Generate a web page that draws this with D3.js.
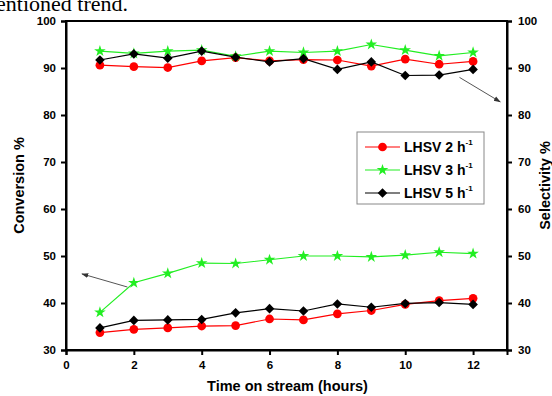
<!DOCTYPE html>
<html>
<head>
<meta charset="utf-8">
<script src="https://cdn.jsdelivr.net/npm/d3@7"></script>
<style>
  body { margin: 0; background: #fff; }
  svg { display: block; font-family: Arial, "Liberation Sans", sans-serif; }
</style>
</head>
<body>
<svg id="chart" width="552" height="396"></svg>
<script>
// Data
const hours = [1, 2, 3, 4, 5, 6, 7, 8, 9, 10, 11, 12];
const series = ["LHSV 2 h", "LHSV 3 h", "LHSV 5 h"];
const conv2 = [33.7, 34.4, 34.7, 35.1, 35.2, 36.6, 36.4, 37.7, 38.4, 39.7, 40.5, 41.0];
const conv3 = [38.0, 44.3, 46.3, 48.5, 48.4, 49.2, 50.0, 50.0, 49.8, 50.2, 50.8, 50.5];
const conv5 = [34.7, 36.3, 36.4, 36.5, 37.9, 38.8, 38.3, 39.8, 39.1, 39.9, 40.1, 39.7];
const sel2 = [90.6, 90.3, 90.1, 91.5, 92.2, 91.5, 91.8, 91.7, 90.4, 91.9, 90.8, 91.4];
const sel3 = [93.6, 93.1, 93.6, 93.8, 92.5, 93.6, 93.3, 93.6, 95.0, 93.8, 92.6, 93.3];
const sel5 = [91.7, 93.0, 92.1, 93.6, 92.3, 91.3, 92.0, 89.7, 91.3, 88.4, 88.5, 89.7];
const xTicks = [0, 2, 4, 6, 8, 10, 12];
const yTicks = [30, 40, 50, 60, 70, 80, 90, 100];

const colors = ["#ff0000", "#22ee22", "#000000"];
const symbols = [d3.symbolCircle, d3.symbolStar, d3.symbolSquare];
const symSize = [60, 42, 46];
const symRot = [0, 0, 45];

const svg = d3.select("#chart");
const plot = { left: 66, right: 507, top: 21, bottom: 350 };

const x = d3.scaleLinear().domain([0, 13]).range([plot.left, plot.right]);
const yL = d3.scaleLinear().domain([30, 100]).range([plot.bottom, plot.top]);
const yR = d3.scaleLinear().domain([30, 100]).range([plot.bottom, plot.top]);

// clipped caption text above the figure (cut off in the source too)
svg.append("text")
    .attr("x", 128).attr("y", 11)
    .attr("text-anchor", "end")
    .style("font-family", "'Liberation Serif', 'Times New Roman', serif")
    .style("font-size", "22px")
    .text("mentioned trend.");

// frame
svg.append("rect")
    .attr("x", plot.left).attr("y", plot.top)
    .attr("width", plot.right - plot.left).attr("height", plot.bottom - plot.top)
    .attr("fill", "none").attr("stroke", "#000").attr("stroke-width", 2);

// axes
const axL = svg.append("g").attr("transform", `translate(${plot.left},0)`)
    .call(d3.axisLeft(yL).tickValues(yTicks).tickSize(5).tickPadding(5));
const axR = svg.append("g").attr("transform", `translate(${plot.right},0)`)
    .call(d3.axisRight(yR).tickValues(yTicks).tickSize(5).tickPadding(6));
const axB = svg.append("g").attr("transform", `translate(0,${plot.bottom})`)
    .call(d3.axisBottom(x).tickValues(xTicks).tickSize(5).tickPadding(6));

[axL, axR, axB].forEach(g => {
    g.select(".domain").attr("stroke-width", 2);
    g.selectAll(".tick line").attr("stroke-width", 2);
    g.selectAll(".tick text")
        .style("font-size", "11.5px")
        .style("font-weight", "bold")
        .style("font-family", "Arial, 'Liberation Sans', sans-serif");
});

// axis titles
svg.append("text")
    .attr("transform", `translate(24,${(plot.top + plot.bottom) / 2}) rotate(-90)`)
    .attr("text-anchor", "middle")
    .style("font-size", "14.5px").style("font-weight", "bold")
    .text("Conversion %");

svg.append("text")
    .attr("transform", `translate(550,${(plot.top + plot.bottom) / 2}) rotate(-90)`)
    .attr("text-anchor", "middle")
    .style("font-size", "14.5px").style("font-weight", "bold")
    .text("Selectivity %");

svg.append("text")
    .attr("x", (plot.left + plot.right) / 2 + 1).attr("y", 391)
    .attr("text-anchor", "middle")
    .style("font-size", "14.5px").style("font-weight", "bold")
    .text("Time on stream (hours)");

// lines and markers
const groups = [
    { vals: conv2, s: 0, y: yL }, { vals: conv3, s: 1, y: yL }, { vals: conv5, s: 2, y: yL },
    { vals: sel2, s: 0, y: yR }, { vals: sel3, s: 1, y: yR }, { vals: sel5, s: 2, y: yR }
];

groups.forEach(gr => {
    const pts = hours.map((h, i) => [h, gr.vals[i]]);
    svg.append("path")
        .datum(pts)
        .attr("fill", "none")
        .attr("stroke", colors[gr.s])
        .attr("stroke-width", 1.2)
        .attr("d", d3.line().x(d => x(d[0])).y(d => gr.y(d[1])));
    svg.selectAll(null)
        .data(pts)
        .enter().append("path")
        .attr("transform", d => `translate(${x(d[0])},${gr.y(d[1])}) rotate(${symRot[gr.s]})`)
        .attr("d", d3.symbol().type(symbols[gr.s]).size(symSize[gr.s]))
        .attr("fill", colors[gr.s]);
});

// arrows
const defs = svg.append("defs");
defs.append("marker")
    .attr("id", "arr")
    .attr("viewBox", "0 0 10 10")
    .attr("refX", 9).attr("refY", 5)
    .attr("markerWidth", 7).attr("markerHeight", 7)
    .attr("orient", "auto")
    .append("path").attr("d", "M0,1.5 L10,5 L0,8.5 Z").attr("fill", "#333");

svg.append("line")
    .attr("x1", x(1.81)).attr("y1", yL(43.4))
    .attr("x2", x(0.47)).attr("y2", yL(46.2))
    .attr("stroke", "#555").attr("stroke-width", 1)
    .attr("marker-end", "url(#arr)");

svg.append("line")
    .attr("x1", x(11.6)).attr("y1", yR(88.0))
    .attr("x2", x(12.8)).attr("y2", yR(82.8))
    .attr("stroke", "#555").attr("stroke-width", 1)
    .attr("marker-end", "url(#arr)");

// legend
const lg = svg.append("g").attr("transform", "translate(357,132)");
lg.append("rect")
    .attr("width", 127).attr("height", 72)
    .attr("fill", "#fff").attr("stroke", "#888").attr("stroke-width", 1);

series.forEach((name, i) => {
    const yy = 15 + i * 23;
    lg.append("line")
        .attr("x1", 8).attr("x2", 43).attr("y1", yy).attr("y2", yy)
        .attr("stroke", colors[i]).attr("stroke-width", 1.2);
    lg.append("path")
        .attr("transform", `translate(25.5,${yy}) rotate(${symRot[i]})`)
        .attr("d", d3.symbol().type(symbols[i]).size(symSize[i]))
        .attr("fill", colors[i]);
    const t = lg.append("text")
        .attr("x", 47).attr("y", yy + 5)
        .style("font-size", "14px").style("font-weight", "bold")
        .text(name);
    t.append("tspan")
        .attr("dy", -7).style("font-size", "8px")
        .text("-1");
});
</script>
</body>
</html>
